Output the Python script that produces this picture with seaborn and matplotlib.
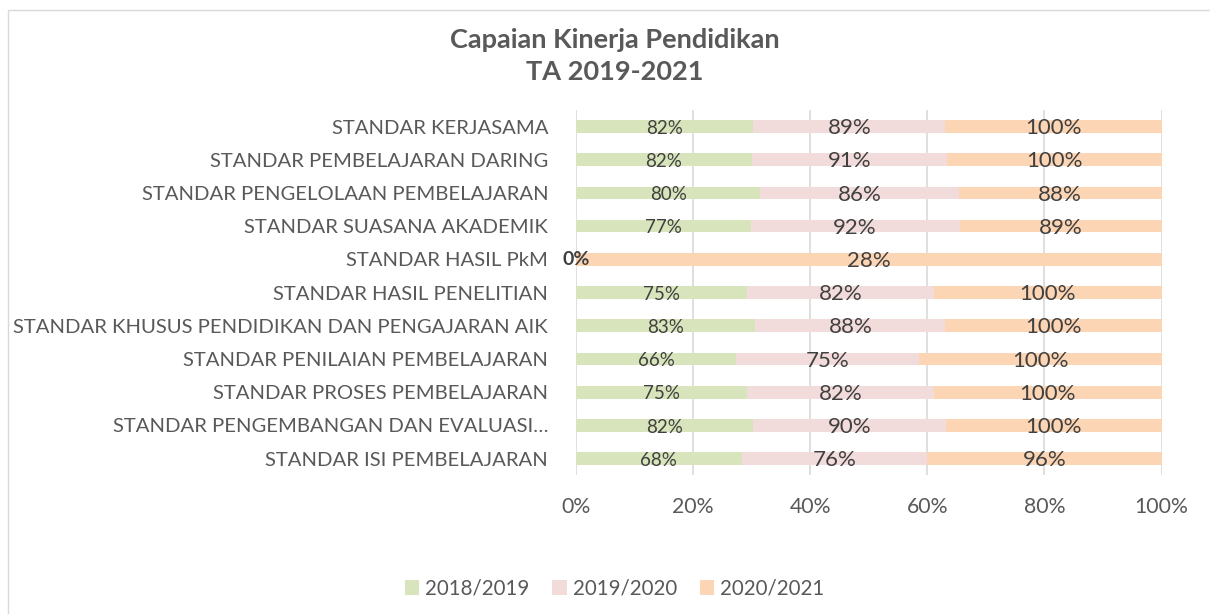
import numpy as np
import pandas as pd
import matplotlib.pyplot as plt
import seaborn as sns
from matplotlib.patches import Rectangle, Patch

# Data (top to bottom)
categories = [
    "STANDAR KERJASAMA",
    "STANDAR PEMBELAJARAN DARING",
    "STANDAR PENGELOLAAN PEMBELAJARAN",
    "STANDAR SUASANA AKADEMIK",
    "STANDAR HASIL PkM",
    "STANDAR HASIL PENELITIAN",
    "STANDAR KHUSUS PENDIDIKAN DAN PENGAJARAN AIK",
    "STANDAR PENILAIAN PEMBELAJARAN",
    "STANDAR PROSES PEMBELAJARAN",
    "STANDAR PENGEMBANGAN DAN EVALUASI…",
    "STANDAR ISI PEMBELAJARAN",
]
v_2018 = [82, 82, 80, 77, 0, 75, 83, 66, 75, 82, 68]
v_2019 = [89, 91, 86, 92, np.nan, 82, 88, 75, 82, 90, 76]
v_2020 = [100, 100, 88, 89, 28, 100, 100, 100, 100, 100, 96]
series = ["2018/2019", "2019/2020", "2020/2021"]
colors = ["#D8E4BC", "#F2DCDB", "#FCD5B4"]

df = pd.DataFrame({"kategori": categories, "2018/2019": v_2018,
                   "2019/2020": v_2019, "2020/2021": v_2020})
vals = df[series].fillna(0)
share = vals.div(vals.sum(axis=1), axis=0) * 100
cum = share.cumsum(axis=1)
df["c1"], df["c2"], df["c3"] = cum[series[0]], cum[series[1]], cum[series[2]]

plt.rcParams["font.family"] = ["Lato", "DejaVu Sans"]
fig = plt.figure(figsize=(12.1, 6.14), dpi=100)
ax = fig.add_axes([0.476, 0.226, 0.484, 0.595])

# stacked bars: draw cumulative totals from largest to smallest
for col, c in zip(["c3", "c2", "c1"], colors[::-1]):
    sns.barplot(data=df, x=col, y="kategori", color=c, width=0.38,
                orient="h", ax=ax, saturation=1, zorder=2)

ax.set_xlim(0, 100)
ax.set_xticks(range(0, 101, 20))
ax.set_xticklabels([f"{t}%" for t in range(0, 101, 20)])
ax.grid(axis="x", color="#D9D9D9", linewidth=1.2, zorder=0)
ax.set_axisbelow(True)
for s in ax.spines.values():
    s.set_visible(False)
ax.tick_params(axis="both", length=0, colors="#595959")
ax.tick_params(axis="y", pad=20, labelsize=14.6)
ax.tick_params(axis="x", pad=16, labelsize=15.3)
ax.set_xlabel("")
ax.set_ylabel("")

# data labels
for i in range(len(categories)):
    starts = [0, df["c1"][i], df["c2"][i]]
    ends = [df["c1"][i], df["c2"][i], df["c3"][i]]
    for j, s in enumerate(series):
        v = df[s][i]
        if pd.isna(v):
            continue
        xc = (starts[j] + ends[j]) / 2
        if v == 0:
            ax.text(xc, i, f"{int(v)}%", ha="center", va="center",
                    fontsize=14, fontweight="bold", color="#404040", zorder=5)
        else:
            ax.text(xc, i + 0.05, f"{int(v)}%", ha="center", va="center",
                    fontsize=13.5 if j == 0 else 16, color="#404040", zorder=5)

fig.text(0.508, 0.935, "Capaian Kinerja Pendidikan", ha="center", va="center",
         fontsize=19.5, fontweight="bold", color="#595959")
fig.text(0.508, 0.882, "TA 2019-2021", ha="center", va="center",
         fontsize=19.5, fontweight="bold", color="#595959")

handles = [Patch(facecolor=c, edgecolor="none") for c in colors]
fig.legend(handles, series, loc="center", bbox_to_anchor=(0.508, 0.041), ncol=3,
           frameon=False, fontsize=14.8, handlelength=0.7, handleheight=0.7,
           handletextpad=0.3, columnspacing=1.1, labelcolor="#595959")

fig.patches.append(Rectangle((8 / 1210, -0.1), 1.2, 1 - 10 / 614 + 0.1,
                             transform=fig.transFigure, fill=False,
                             edgecolor="#D9D9D9", linewidth=1))

fig.savefig("out.png", dpi=100, facecolor="white")
